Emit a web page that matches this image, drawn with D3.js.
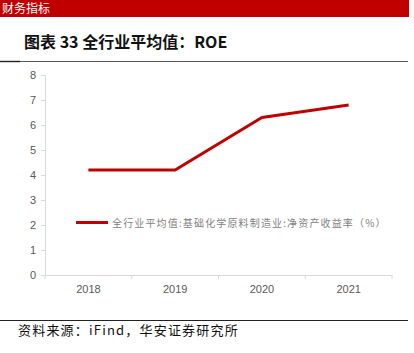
<!DOCTYPE html>
<html><head><meta charset="utf-8">
<script src="https://cdn.jsdelivr.net/npm/d3@7"></script>
<style>body{margin:0;background:#fff}svg{display:block}</style>
</head><body>
<script>
const categories = ["2018","2019","2020","2021"];
const values = [4.2, 4.2, 6.3, 6.8];
const yTicks = [0,1,2,3,4,5,6,7,8];
const seriesName = "全行业平均值:基础化学原料制造业:净资产收益率（%）";
const titleText = "图表 33 全行业平均值：ROE";
const sourceText = "资料来源：iFind，华安证券研究所";
const bannerText = "财务指标";

const W = 414, H = 353;
const svg = d3.select("body").append("svg").attr("width", W).attr("height", H);
const cjk = "'Noto Sans CJK SC', sans-serif";

// top banner
svg.append("rect").attr("x",0).attr("y",0).attr("width",409).attr("height",17).attr("fill","#C00000");
svg.append("text").attr("x",2).attr("y",13).attr("fill","#fff")
  .attr("font-family",cjk).attr("font-size",12).text(bannerText);

// title
svg.append("text").attr("x",24).attr("y",48).attr("font-family",cjk).attr("font-weight","bold")
  .attr("font-size",16).attr("fill","#111").text(titleText);
svg.append("line").attr("x1",0).attr("x2",408).attr("y1",61.5).attr("y2",61.5).attr("stroke","#555").attr("stroke-width",1.2);
svg.append("line").attr("x1",0).attr("x2",20).attr("y1",61.5).attr("y2",61.5).attr("stroke","#222").attr("stroke-width",1.4);

// scales
const x = d3.scaleBand().domain(categories).range([45, 392]);
const y = d3.scaleLinear().domain([0, 8]).range([275, 75]);

// y axis
const ya = svg.append("g").attr("transform","translate(45,0)")
  .call(d3.axisLeft(y).tickValues(yTicks).tickSize(4).tickPadding(5));
ya.select(".domain").attr("stroke","#d9d9d9");
ya.selectAll(".tick line").attr("stroke","#d9d9d9");
ya.selectAll("text").attr("fill","#595959").attr("font-family","Arial, 'Liberation Sans', sans-serif").attr("font-size",11);

// x axis
const xa = svg.append("g").attr("transform","translate(0,275)")
  .call(d3.axisBottom(x).tickSize(0).tickPadding(10));
xa.select(".domain").attr("stroke","#d9d9d9");
xa.selectAll("text").attr("fill","#595959").attr("font-family","Arial, 'Liberation Sans', sans-serif").attr("font-size",11);
const bounds = categories.map(c => x(c)).concat([x.range()[1]]);
xa.selectAll(".bt").data(bounds).enter().append("line")
  .attr("x1",d=>d).attr("x2",d=>d).attr("y1",0).attr("y2",4).attr("stroke","#d9d9d9");

// line
const line = d3.line().x((d,i)=>x(categories[i]) + x.bandwidth()/2).y(d=>y(d));
svg.append("path").datum(values).attr("d", line).attr("fill","none")
  .attr("stroke","#C00000").attr("stroke-width",3).attr("stroke-linejoin","round");

// legend
const ly = y(2.1);
svg.append("line").attr("x1",76).attr("x2",108).attr("y1",ly).attr("y2",ly).attr("stroke","#C00000").attr("stroke-width",3);
svg.append("text").attr("x",112).attr("y",ly+4).attr("font-family",cjk).attr("font-size",10)
  .attr("letter-spacing",1.15).attr("fill","#7f7f7f").text(seriesName);

// bottom
svg.append("line").attr("x1",0).attr("x2",408).attr("y1",320.5).attr("y2",320.5).attr("stroke","#222").attr("stroke-width",1.2);
svg.append("text").attr("x",18).attr("y",335).attr("font-family",cjk).attr("font-size",13)
  .attr("letter-spacing",1.2).attr("fill","#111").text(sourceText);
</script>
</body></html>
